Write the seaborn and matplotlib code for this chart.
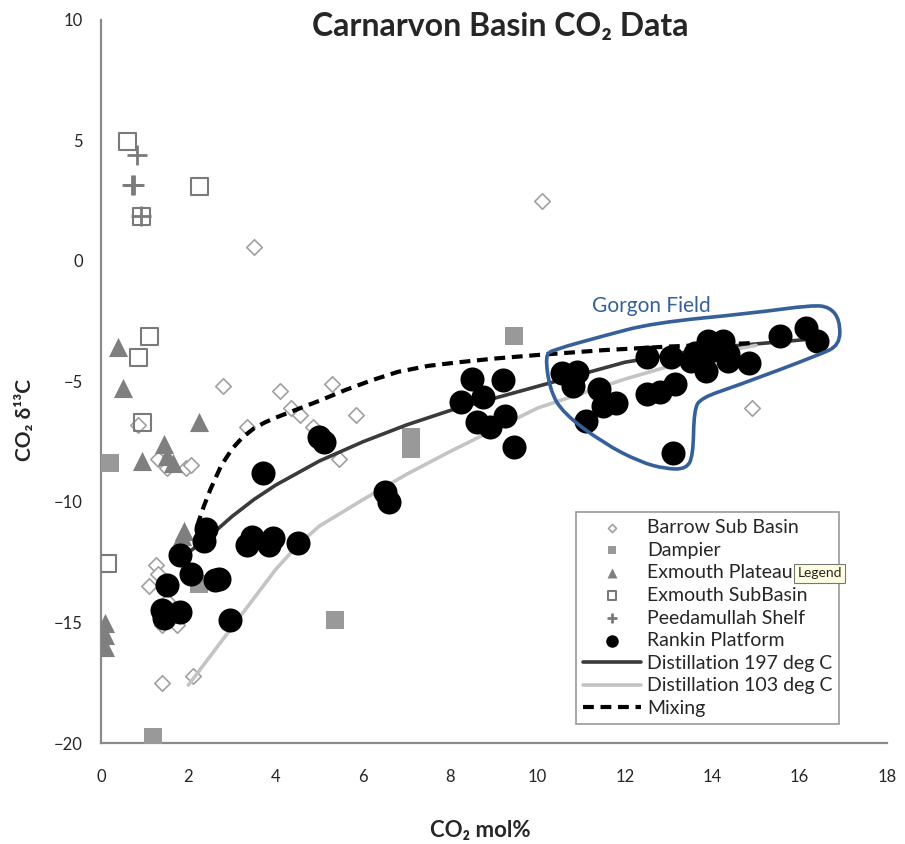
import matplotlib
matplotlib.use("Agg")
import matplotlib.pyplot as plt
from matplotlib.path import Path
from matplotlib.patches import PathPatch
import numpy as np
import pandas as pd
import seaborn as sns

# CO2 mol% (x) and CO2 d13C (y), one pair of lists per field
barrow_x = [10.1, 3.5, 2.8, 4.1, 5.3, 4.35, 4.55, 3.35, 4.85, 5.45, 5.85, 14.9, 0.85,
            1.3, 1.5, 1.95, 2.05, 1.25, 1.1, 1.3, 1.5, 1.75, 1.4, 1.4, 2.1]
barrow_y = [2.5, 0.6, -5.2, -5.4, -5.1, -6.1, -6.4, -6.9, -6.9, -8.2, -6.4, -6.1, -6.8,
            -8.2, -8.6, -8.6, -8.45, -12.6, -13.5, -13.0, -14.1, -15.1, -15.1, -17.5, -17.2]

dampier_x = [9.45, 7.1, 7.1, 0.2, 5.35, 1.2, 2.25]
dampier_y = [-3.1, -7.3, -7.8, -8.4, -14.9, -19.75, -13.4]

plateau_x = [0.4, 0.5, 2.25, 0.95, 1.45, 1.5, 1.65, 1.9, 1.85, 0.1, 0.1, 0.1]
plateau_y = [-3.55, -5.25, -6.7, -8.3, -7.6, -8.1, -8.4, -11.2, -11.4, -15.0, -15.5, -16.0]

subbasin_x = [0.6, 2.25, 1.1, 0.85, 0.95, 0.15, 0.92]
subbasin_y = [4.95, 3.1, -3.15, -4.0, -6.7, -12.55, 1.85]

peedamullah_x = [0.82, 0.72, 0.76, 0.92]
peedamullah_y = [4.4, 3.15, 3.15, 1.85]

rankin_x = [3.7, 5.0, 5.1, 2.4, 2.35, 1.8, 2.05, 1.5, 2.6, 2.7, 1.4, 1.45, 1.8, 2.95,
            3.35, 3.45, 3.85, 3.95, 4.5, 6.5, 6.6,
            8.5, 9.2, 8.25, 8.75, 8.6, 8.9, 9.25, 9.45,
            10.55, 10.9, 10.8, 11.4, 11.8, 11.5, 11.1, 12.5, 12.8, 13.15, 12.5, 13.05,
            13.5, 13.85, 13.9, 14.25, 13.95, 14.35, 14.35, 14.85, 15.55, 16.15, 16.4,
            13.1, 13.6]
rankin_y = [-8.8, -7.3, -7.5, -11.1, -11.6, -12.2, -13.0, -13.45, -13.25, -13.2, -14.5,
            -14.8, -14.55, -14.9, -11.8, -11.45, -11.8, -11.5, -11.7, -9.6, -10.0,
            -4.9, -4.95, -5.85, -5.65, -6.7, -6.9, -6.45, -7.7,
            -4.65, -4.6, -5.2, -5.3, -5.9, -6.0, -6.65, -5.5, -5.45, -5.1, -4.0, -4.0,
            -4.15, -4.55, -3.3, -3.3, -3.75, -3.85, -4.15, -4.25, -3.1, -2.8, -3.3,
            -7.95, -3.8]

# model curves
dist197_x = [2.0, 2.5, 3.0, 3.5, 4.0, 5.0, 6.0, 7.0, 8.0, 10.0, 12.0, 14.0, 16.2]
dist197_y = [-12.1, -11.4, -10.6, -9.9, -9.3, -8.3, -7.5, -6.8, -6.2, -5.2, -4.2, -3.6, -3.25]
dist103_x = [2.0, 3.0, 4.0, 4.5, 5.0, 6.0, 7.0, 8.0, 10.0, 12.0, 14.0, 15.0]
dist103_y = [-17.6, -15.2, -12.8, -11.8, -11.0, -9.9, -8.85, -7.9, -6.1, -4.9, -3.85, -3.5]
mixing_x = [2.2, 2.35, 2.5, 2.75, 3.0, 3.25, 3.5, 3.75, 4.0, 4.5, 5.0, 5.6, 6.2, 6.8,
            7.5, 8.2, 9.0, 10.0, 11.5, 13.0, 15.0]
mixing_y = [-11.0, -10.2, -9.5, -8.5, -7.8, -7.3, -6.95, -6.7, -6.5, -6.15, -5.8, -5.35,
            -4.95, -4.6, -4.35, -4.2, -4.05, -3.9, -3.7, -3.55, -3.4]

# outline drawn round the Gorgon field
gorgon_x = [10.17, 10.28, 10.58, 11.5, 12.34, 12.94, 13.4, 13.56, 13.58, 13.74, 14.54,
            16.44, 16.92, 16.92, 16.69, 16.28, 14.93, 12.64, 11.5, 10.35]
gorgon_y = [-3.9, -5.35, -6.31, -7.55, -8.34, -8.63, -8.63, -8.09, -6.18, -5.68, -5.19,
            -3.9, -3.49, -2.45, -1.91, -1.83, -2.16, -2.57, -3.11, -3.69]

x_ticks = list(range(0, 19, 2))
y_ticks = list(range(-20, 11, 5))

sns.set_style("white")
plt.rcParams['font.family'] = ['Lato', 'DejaVu Sans']

fig = plt.figure(figsize=(9.05, 8.44), dpi=100)
ax = fig.add_axes([101 / 905, 1 - 743 / 844, 786 / 905, 723 / 844])

sns.scatterplot(x=barrow_x, y=barrow_y, ax=ax, marker='D', s=62, edgecolor='#a0a0a0',
                facecolor='white', linewidth=1.2, label='Barrow Sub Basin', zorder=3)
sns.scatterplot(x=dampier_x, y=dampier_y, ax=ax, marker='s', s=150, color='#999999',
                linewidth=0, label='Dampier', zorder=3)
sns.scatterplot(x=plateau_x, y=plateau_y, ax=ax, marker='^', s=190, color='#7f7f7f',
                linewidth=0, label='Exmouth Plateau', zorder=3)
sns.scatterplot(x=subbasin_x, y=subbasin_y, ax=ax, marker='s', s=150, edgecolor='#7a7a7a',
                facecolor='none', linewidth=1.5, label='Exmouth SubBasin', zorder=3)
sns.scatterplot(x=peedamullah_x, y=peedamullah_y, ax=ax, marker='+', s=190, color='#7a7a7a',
                linewidth=2, label='Peedamullah Shelf', zorder=3)

sns.lineplot(x=dist197_x, y=dist197_y, ax=ax, sort=False, estimator=None, color='#3a3a3a',
             lw=2.6, label='Distillation 197 deg C', zorder=4)
sns.lineplot(x=dist103_x, y=dist103_y, ax=ax, sort=False, estimator=None, color='#c4c4c4',
             lw=2.6, label='Distillation 103 deg C', zorder=4)
sns.lineplot(x=mixing_x, y=mixing_y, ax=ax, sort=False, estimator=None, color='black',
             lw=3, linestyle=(0, (2.6, 1.6)), label='Mixing', zorder=4)

sns.scatterplot(x=rankin_x, y=rankin_y, ax=ax, marker='o', s=300, color='black',
                linewidth=0, label='Rankin Platform', zorder=5)

# smooth closed outline: quadratic curves through the midpoints
pts = np.column_stack([gorgon_x, gorgon_y])
mids = (pts + np.roll(pts, -1, axis=0)) / 2
verts = [mids[-1]]
codes = [Path.MOVETO]
for p, m in zip(pts, mids):
    verts += [p, m]
    codes += [Path.CURVE3, Path.CURVE3]
ax.add_patch(PathPatch(Path(verts, codes), facecolor='none', edgecolor='#36609a',
                       lw=2.6, zorder=6))
ax.text(12.6, -1.85, 'Gorgon Field', color='#36609a', fontsize=15, ha='center',
        va='center')

ax.set_xlim(0, 18)
ax.set_ylim(-20, 10)
ax.set_xticks(x_ticks)
ax.set_yticks(y_ticks)
ax.tick_params(axis='both', direction='out', length=5, width=1.3, color='#888888',
               labelsize=12, pad=8)
ax.tick_params(axis='x', pad=14)
for side in ['top', 'right']:
    ax.spines[side].set_visible(False)
for side in ['left', 'bottom']:
    ax.spines[side].set_color('#8a8a8a')
    ax.spines[side].set_linewidth(1.6)
ax.set_xlabel('')
ax.set_ylabel('')

order = ['Barrow Sub Basin', 'Dampier', 'Exmouth Plateau', 'Exmouth SubBasin',
         'Peedamullah Shelf', 'Rankin Platform', 'Distillation 197 deg C',
         'Distillation 103 deg C', 'Mixing']
handles, labels = ax.get_legend_handles_labels()
lookup = dict(zip(labels, handles))
leg = ax.legend([lookup[k] for k in order], order, loc='lower left',
                bbox_to_anchor=(0.592, 0.013), fontsize=14, markerscale=0.52,
                handlelength=3.0, handletextpad=0.3, labelspacing=0.29, borderpad=0.35,
                frameon=True, fancybox=False, edgecolor='#9a9a9a', framealpha=1)
leg.get_frame().set_linewidth(1.2)
leg.set_zorder(7)

ax.text(16.46, -12.95, 'Legend', fontsize=10, ha='center', va='center', zorder=8,
        bbox=dict(boxstyle='square,pad=0.25', facecolor='#ffffe1', edgecolor='#777777',
                  lw=0.8))

fig.text(500 / 905, 1 - 26 / 844, 'Carnarvon Basin CO₂ Data', ha='center', va='center',
         fontsize=23, fontweight='bold')
fig.text(480 / 905, 1 - 830 / 844, 'CO₂ mol%', ha='center', va='center',
         fontsize=16, fontweight='bold')
fig.text(25 / 905, 1 - 420 / 844, 'CO₂ δ¹³C', ha='center', va='center', rotation=90,
         fontsize=15, fontweight='bold')

fig.savefig('out.png', dpi=100)
